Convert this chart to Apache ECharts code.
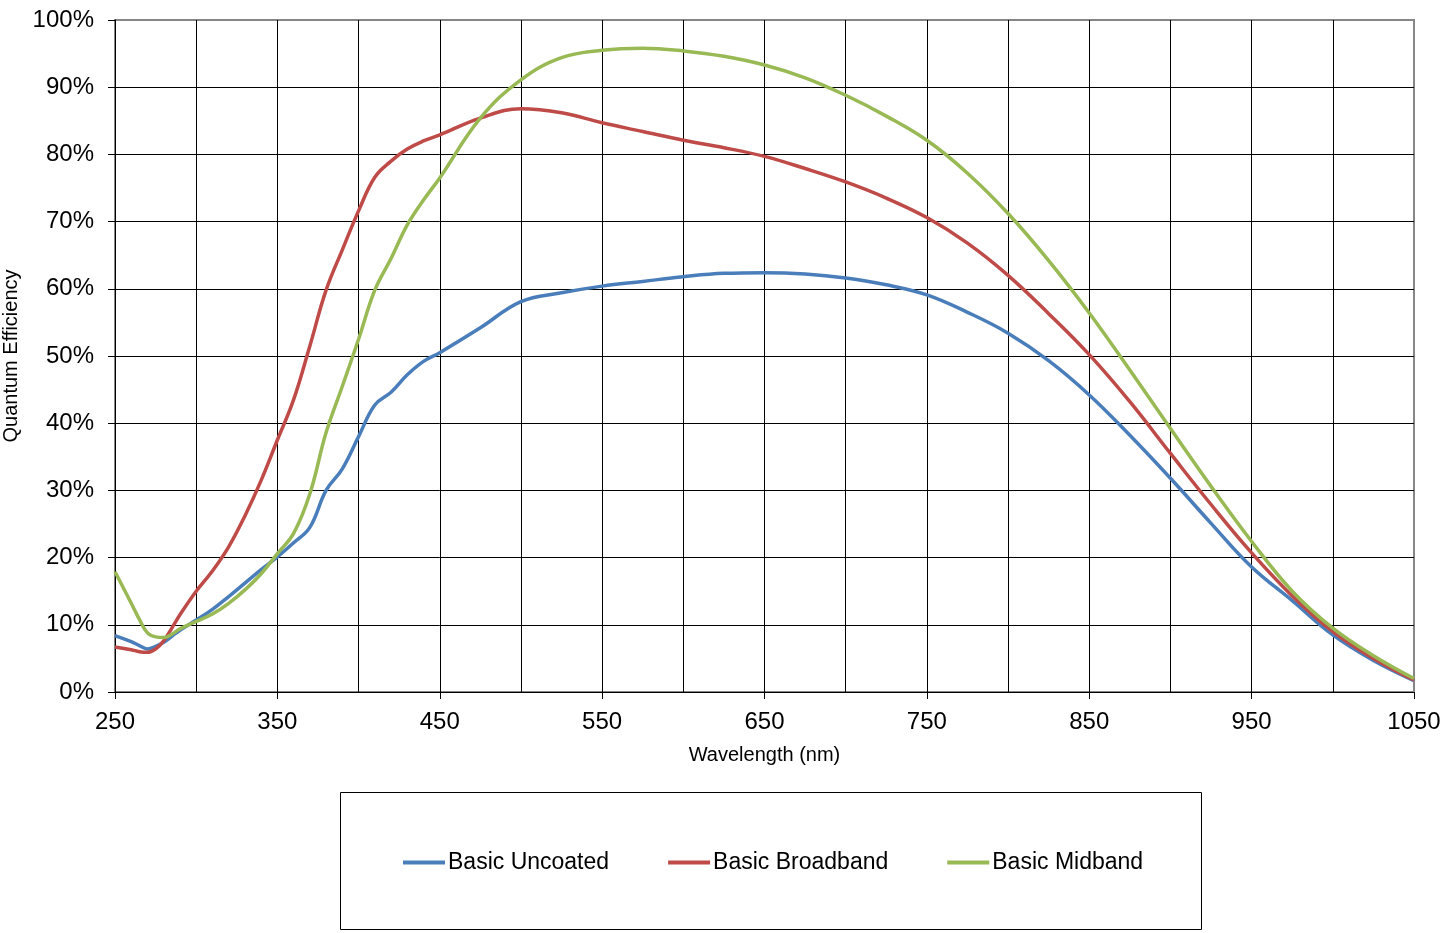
<!DOCTYPE html>
<html>
<head>
<meta charset="utf-8">
<title>Quantum Efficiency</title>
<script src="https://cdn.jsdelivr.net/npm/echarts@6/dist/echarts.min.js"></script>
<style>
  html, body { margin: 0; padding: 0; background: #fff; }
  #chart { width: 1447px; height: 933px; }
</style>
</head>
<body>
<div id="chart"></div>
<script>
// wavelength (nm) shared by all three curves
var wavelengths = [250, 260, 265, 270, 275, 280, 285, 290, 300, 310, 320, 330, 340, 350, 360, 370,
  380, 390, 400, 410, 420, 430, 440, 450, 475, 500, 525, 550, 575, 600, 625, 650, 675, 700,
  725, 750, 775, 800, 825, 850, 875, 900, 925, 950, 975, 1000, 1025, 1050];

// quantum efficiency, %
var uncoated = [8.4, 7.5, 6.9, 6.4, 6.8, 7.4, 8.3, 9.2, 10.7, 12.3, 14.2, 16.2, 18.2, 20.1, 22.2, 24.5,
  30.0, 33.2, 38.0, 42.7, 44.6, 47.2, 49.2, 50.5, 54.2, 58.1, 59.4, 60.4, 61.1, 61.8, 62.3, 62.4, 62.2, 61.6,
  60.6, 59.1, 56.5, 53.4, 49.3, 44.2, 38.2, 31.8, 25.1, 18.6, 13.6, 8.5, 4.7, 1.7];
var broadband = [6.7, 6.3, 6.0, 5.9, 6.4, 7.6, 9.5, 11.5, 15.0, 18.0, 21.6, 26.2, 31.5, 37.5, 43.5, 51.5,
  59.8, 65.8, 71.6, 76.6, 79.0, 80.8, 82.0, 82.9, 85.4, 86.8, 86.2, 84.7, 83.4, 82.1, 81.0, 79.7, 77.9, 75.9,
  73.5, 70.6, 66.8, 62.0, 56.3, 50.2, 43.2, 35.5, 27.9, 20.7, 14.3, 9.0, 5.0, 1.8];
var midband = [17.9, 13.2, 10.8, 8.8, 8.2, 8.1, 8.6, 9.4, 10.5, 11.6, 13.2, 15.2, 17.6, 20.6, 23.6, 29.5,
  38.6, 45.5, 52.5, 59.8, 64.5, 69.5, 73.2, 76.5, 85.4, 91.1, 94.4, 95.5, 95.8, 95.4, 94.6, 93.3, 91.4, 88.8,
  85.7, 82.1, 77.2, 71.2, 64.2, 56.4, 47.9, 39.2, 30.6, 22.4, 15.0, 9.5, 5.4, 2.0];

var seriesNames = ['Basic Uncoated', 'Basic Broadband', 'Basic Midband'];
var xLabelValues = [250, 350, 450, 550, 650, 750, 850, 950, 1050];

function pairs(vals) {
  return wavelengths.map(function (w, i) { return [w, vals[i]]; });
}

var font = 'Liberation Sans, Arial, sans-serif';
var chart = echarts.init(document.getElementById('chart'));

chart.setOption({
  animation: false,
  color: ['#4A7EBB', '#BE4B48', '#98B954'],
  grid: {
    left: 115, right: 33, top: 20, bottom: 241,
    outerBoundsMode: 'none',
    containLabel: false,
    show: true,
    borderColor: '#868686',
    borderWidth: 2
  },
  graphic: [{
    type: 'rect',
    shape: { x: 340.5, y: 792.5, width: 861, height: 137 },
    style: { fill: 'none', stroke: '#000', lineWidth: 1 }
  }],
  legend: {
    left: 398,
    top: 846,
    itemWidth: 42,
    itemHeight: 4,
    itemGap: 59,
    icon: 'rect',
    textStyle: { fontFamily: font, fontSize: 23, color: '#000', padding: [0, 0, 0, -2] },
    data: seriesNames
  },
  xAxis: [{
    type: 'value',
    min: 250,
    max: 1050,
    interval: 50,
    name: 'Wavelength (nm)',
    nameLocation: 'middle',
    nameGap: 53,
    nameTextStyle: { fontFamily: font, fontSize: 20, color: '#000' },
    axisLine: { show: true, lineStyle: { color: '#000', width: 1 } },
    axisTick: { show: true, length: 7, customValues: xLabelValues, lineStyle: { color: '#000' } },
    axisLabel: {
      customValues: xLabelValues,
      formatter: function (v) { return String(v); },
      margin: 18,
      fontFamily: font, fontSize: 24, color: '#000'
    },
    splitLine: { show: false },
    z: 3
  }, {
    // helper axis: vertical gridlines every 50 nm
    type: 'value',
    position: 'bottom',
    min: 250,
    max: 1050,
    interval: 50,
    axisLine: { show: false },
    axisTick: { show: false },
    axisLabel: { show: false },
    splitLine: { show: true, showMinLine: false, showMaxLine: false, lineStyle: { color: '#000', width: 1 } }
  }],
  yAxis: {
    type: 'value',
    min: 0,
    max: 100,
    interval: 10,
    name: 'Quantum Efficiency',
    nameLocation: 'middle',
    nameRotate: 90,
    nameGap: 88,
    nameTextStyle: { fontFamily: font, fontSize: 20, color: '#000' },
    axisLine: { show: true, lineStyle: { color: '#000', width: 1 } },
    axisTick: { show: true, length: 7, lineStyle: { color: '#000' } },
    axisLabel: {
      formatter: '{value}%',
      margin: 21,
      fontFamily: font, fontSize: 24, color: '#000'
    },
    splitLine: { show: true, showMaxLine: false, lineStyle: { color: '#000', width: 1 } }
  },
  series: [
    { name: seriesNames[0], type: 'line', smooth: 0.4, symbol: 'none', lineStyle: { width: 3.5 }, data: pairs(uncoated) },
    { name: seriesNames[1], type: 'line', smooth: 0.4, symbol: 'none', lineStyle: { width: 3.5 }, data: pairs(broadband) },
    { name: seriesNames[2], type: 'line', smooth: 0.4, symbol: 'none', lineStyle: { width: 3.5 }, data: pairs(midband) }
  ]
});
</script>
</body>
</html>
